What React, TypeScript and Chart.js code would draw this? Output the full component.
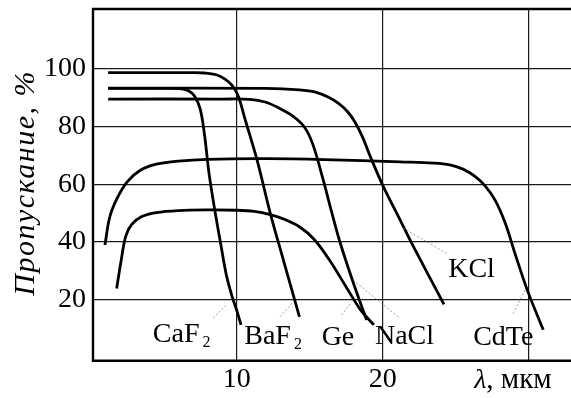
import React, { useEffect, useRef } from "react";
import { Chart, registerables } from "chart.js";

Chart.register(...registerables);

// ---- data (wavelength, µm / transmission, %) ----
const caf2X = [1.2, 5.0, 6.1, 6.7, 7.1, 7.5, 7.8, 8.1, 8.5, 8.9, 9.3, 9.7, 10.0, 10.3];
const caf2Y = [93.1, 93.1, 93.0, 92.3, 90.5, 86.0, 77.0, 64.0, 51.1, 39.6, 28.5, 21.0, 16.5, 11.4];

const baf2X = [1.2, 7.0, 7.8, 8.6, 9.2, 9.7, 10.1, 10.6, 11.4, 12.3, 13.2, 14.3];
const baf2Y = [98.5, 98.5, 98.4, 97.8, 96.3, 94.0, 90.5, 82.0, 68.3, 50.0, 33.8, 14.2];

const naclX = [1.2, 9.0, 10.9, 12.0, 12.9, 13.8, 14.6, 15.2, 15.9, 16.5, 17.1, 18.0, 18.9];
const naclY = [89.4, 89.4, 89.3, 88.3, 86.3, 83.7, 80.0, 74.0, 62.0, 50.5, 39.6, 25.8, 13.1];

const kclX = [1.2, 12.0, 14.3, 15.4, 16.3, 17.0, 17.6, 18.1, 18.6, 19.2, 20.0, 21.2, 22.1, 24.2];
const kclY = [93.2, 93.1, 92.6, 91.8, 90.0, 87.8, 85.0, 81.5, 76.5, 69.0, 59.7, 47.6, 38.5, 18.5];

const geX = [1.78, 2.1, 2.4, 2.8, 3.5, 4.5, 6.0, 8.0, 10.0, 11.2, 12.3, 13.3, 14.3, 15.3, 16.4, 17.5, 18.5, 19.4];
const geY = [24.0, 34.0, 42.0, 46.0, 48.8, 50.2, 50.9, 51.1, 51.0, 50.6, 49.5, 47.8, 45.3, 41.0, 33.5, 24.5, 16.5, 11.4];

const cdteX = [0.98, 1.3, 1.8, 2.5, 3.4, 4.5, 6.0, 8.0, 12.0, 16.0, 21.2, 23.5, 24.6, 25.5, 26.3, 27.0, 27.7, 28.4, 29.1, 29.9, 31.0];
const cdteY = [39.0, 48.5, 55.0, 60.8, 64.8, 66.9, 68.0, 68.6, 68.8, 68.5, 67.7, 67.3, 66.7, 65.2, 62.8, 59.5, 54.5, 46.5, 35.5, 23.5, 9.7];

const xTickValues = [10, 20, 30];
const xTickLabels = ["10", "20", ""];
const yTickValues = [20, 40, 60, 80, 100];
const yTickLabels = ["20", "40", "60", "80", "100"];

const yTitle = "Пропускание, %";
const xTitleSymbol = "λ";
const xTitleUnit = ", мкм";

// curve labels: main text, subscript, anchor (data coords, left/baseline), leader line (data coords)
const labelNames = ["CaF", "BaF", "Ge", "NaCl", "KCl", "CdTe"];
const labelSubs = ["2", "2", "", "", "", ""];
const labelAnchorX = [4.26, 10.52, 15.82, 19.47, 24.49, 26.2];
const labelAnchorY = [5.5, 4.8, 4.6, 4.8, 28.0, 4.5];
const leaderX1 = [8.38, 12.97, 17.19, 17.99, 21.41, 28.95];
const leaderY1 = [13.8, 14.2, 14.8, 26.9, 44.8, 15.4];
const leaderX2 = [9.31, 13.88, 17.88, 21.18, 24.38, 29.75];
const leaderY2 = [18.3, 19.4, 19.4, 13.7, 36.1, 23.4];

const X_MIN = 0.16;
const X_MAX = 32.9;
const Y_MIN = -0.96;
const Y_MAX = 120.5;

const FONT = '"Liberation Serif", "Times New Roman", serif';

const series = [
  [caf2X, caf2Y],
  [baf2X, baf2Y],
  [naclX, naclY],
  [kclX, kclY],
  [geX, geY],
  [cdteX, cdteY],
];

const decorPlugin = {
  id: "decor",
  afterDraw(chart: any) {
    const { ctx, chartArea, scales } = chart;
    const xs = scales.x;
    const ys = scales.y;
    ctx.save();
    // frame (left, top, bottom)
    ctx.strokeStyle = "#000";
    ctx.lineWidth = 2.4;
    ctx.beginPath();
    ctx.moveTo(chart.width, chartArea.top);
    ctx.lineTo(chartArea.left, chartArea.top);
    ctx.lineTo(chartArea.left, chartArea.bottom);
    ctx.lineTo(chart.width, chartArea.bottom);
    ctx.stroke();

    // leader lines
    ctx.strokeStyle = "#888";
    ctx.lineWidth = 0.8;
    ctx.setLineDash([2, 2]);
    for (let i = 0; i < labelNames.length; i++) {
      ctx.beginPath();
      ctx.moveTo(xs.getPixelForValue(leaderX1[i]), ys.getPixelForValue(leaderY1[i]));
      ctx.lineTo(xs.getPixelForValue(leaderX2[i]), ys.getPixelForValue(leaderY2[i]));
      ctx.stroke();
    }
    ctx.setLineDash([]);

    // labels
    ctx.fillStyle = "#000";
    ctx.textBaseline = "alphabetic";
    ctx.textAlign = "left";
    for (let i = 0; i < labelNames.length; i++) {
      const px = xs.getPixelForValue(labelAnchorX[i]);
      const py = ys.getPixelForValue(labelAnchorY[i]);
      ctx.font = `28px ${FONT}`;
      ctx.fillText(labelNames[i], px, py);
      if (labelSubs[i]) {
        const w = ctx.measureText(labelNames[i]).width;
        ctx.font = `16px ${FONT}`;
        ctx.fillText(labelSubs[i], px + w + 3, py + 5);
      }
    }

    // x title
    const tx = xs.getPixelForValue(26.27);
    const ty = chartArea.bottom + 27.5;
    ctx.font = `italic 28px ${FONT}`;
    ctx.fillText(xTitleSymbol, tx, ty);
    const lw = ctx.measureText(xTitleSymbol).width;
    ctx.font = `29px ${FONT}`;
    ctx.fillText(xTitleUnit, tx + lw, ty);

    // y title
    ctx.save();
    ctx.translate(34, (chartArea.top + chartArea.bottom) / 2 - 2);
    ctx.rotate(-Math.PI / 2);
    ctx.textAlign = "center";
    ctx.font = `italic 30px ${FONT}`;
    try {
      (ctx as any).letterSpacing = "1.5px";
    } catch (e) {}
    ctx.fillText(yTitle, 0, 0);
    try {
      (ctx as any).letterSpacing = "0px";
    } catch (e) {}
    ctx.restore();

    ctx.restore();
  },
};

export default function App() {
  const ref = useRef<HTMLCanvasElement | null>(null);
  useEffect(() => {
    if (!ref.current) return;
    const chart = new Chart(ref.current, {
      type: "line",
      data: {
        datasets: series.map(([xv, yv]) => ({
          data: xv.map((x, i) => ({ x, y: yv[i] })),
          borderColor: "#000",
          borderWidth: 2.8,
          pointRadius: 0,
          fill: false,
          tension: 0.35,
        })),
      },
      options: {
        responsive: false,
        animation: false,
        devicePixelRatio: 1,
        layout: { padding: { top: 9, right: 0, left: 0, bottom: 0 } },
        plugins: { legend: { display: false }, tooltip: { enabled: false } },
        scales: {
          x: {
            type: "linear",
            min: X_MIN,
            max: X_MAX,
            afterBuildTicks: (s: any) => {
              s.ticks = xTickValues.map((v) => ({ value: v }));
            },
            afterFit: (s: any) => {
              s.height = 37.3;
              s.paddingLeft = 0;
              s.paddingRight = 0;
            },
            grid: { color: "#1a1a1a", lineWidth: 1.2, drawTicks: false },
            border: { display: false },
            ticks: {
              color: "#000",
              font: { family: FONT, size: 28 },
              padding: 2,
              maxRotation: 0,
              autoSkip: false,
              callback: (v: any) => {
                const i = xTickValues.indexOf(Number(v));
                return i >= 0 ? xTickLabels[i] : "";
              },
            },
          },
          y: {
            type: "linear",
            min: Y_MIN,
            max: Y_MAX,
            afterBuildTicks: (s: any) => {
              s.ticks = yTickValues.map((v) => ({ value: v }));
            },
            afterFit: (s: any) => {
              s.width = 93;
              s.paddingTop = 0;
              s.paddingBottom = 0;
            },
            grid: { color: "#1a1a1a", lineWidth: 1.2, drawTicks: false },
            border: { display: false },
            ticks: {
              color: "#000",
              font: { family: FONT, size: 28 },
              padding: 7,
              autoSkip: false,
              callback: (v: any) => {
                const i = yTickValues.indexOf(Number(v));
                return i >= 0 ? yTickLabels[i] : "";
              },
            },
          },
        },
      },
      plugins: [decorPlugin],
    });
    return () => chart.destroy();
  }, []);
  return (
    <div style={{ position: "fixed", left: 0, top: 0, width: 571, height: 398, background: "#fff" }}>
      <canvas ref={ref} width={571} height={398} style={{ display: "block", width: 571, height: 398 }} />
    </div>
  );
}
